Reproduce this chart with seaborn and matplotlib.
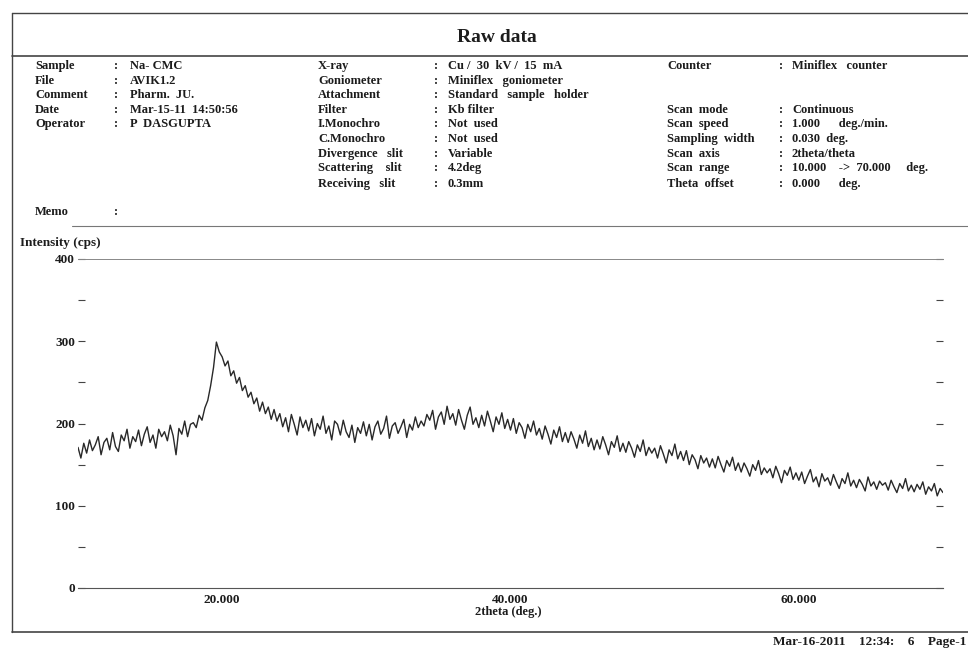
import numpy as np
import pandas as pd
import matplotlib
matplotlib.use("Agg")
import matplotlib.pyplot as plt
from matplotlib.lines import Line2D
import seaborn as sns

# ---------------- data ----------------
scan_start = 10.0
scan_step = 0.2
intensity = [
    171, 158, 176, 164, 180, 167, 174, 184, 162, 177,
    182, 168, 189, 172, 166, 186, 179, 193, 170, 184,
    178, 192, 173, 187, 196, 177, 186, 170, 193, 184,
    190, 179, 198, 185, 162, 194, 187, 203, 184, 199,
    201, 195, 210, 204, 219, 228, 246, 268, 299, 287,
    281, 270, 276, 258, 264, 249, 256, 240, 246, 232,
    238, 224, 231, 215, 226, 212, 220, 205, 217, 203,
    212, 196, 207, 190, 211, 199, 186, 208, 195, 204,
    191, 206, 185, 200, 193, 209, 188, 197, 180, 203,
    199, 186, 204, 190, 183, 198, 177, 195, 188, 202,
    185, 199, 180, 196, 203, 187, 194, 209, 182, 197,
    201, 188, 196, 205, 183, 199, 192, 208, 195, 203,
    197, 211, 204, 216, 193, 208, 214, 199, 221, 205,
    212, 198, 217, 204, 193, 210, 220, 199, 207, 195,
    210, 197, 215, 203, 190, 208, 199, 213, 194, 205,
    192, 206, 188, 201, 195, 182, 199, 190, 203, 186,
    194, 181, 197, 187, 175, 192, 183, 196, 178, 189,
    177, 190, 181, 170, 186, 176, 191, 172, 182, 168,
    180, 169, 184, 174, 162, 178, 171, 185, 166, 176,
    165, 178, 170, 159, 174, 166, 180, 161, 171, 164,
    170, 158, 173, 163, 152, 168, 161, 175, 157, 166,
    155, 167, 150, 162, 156, 145, 161, 152, 158, 147,
    157, 146, 160, 150, 141, 155, 148, 159, 143, 152,
    141, 152, 145, 136, 150, 143, 155, 138, 146, 140,
    145, 134, 148, 139, 128, 143, 137, 147, 132, 140,
    131, 141, 127, 136, 144, 129, 135, 123, 139, 130,
    134, 125, 138, 129, 121, 133, 127, 140, 124, 131,
    122, 132, 126, 118, 135, 124, 129, 120, 130, 125,
    128, 119, 131, 123, 116, 127, 121, 133, 118, 125,
    117, 126, 120, 129, 114, 123, 118, 127, 112, 121,
    116,
]
x_ticks = [20, 40, 60]
x_tick_labels = ["20.000", "40.000", "60.000"]
y_ticks = [0, 100, 200, 300, 400]
y_tick_labels = ["0", "100", "200", "300", "400"]
y_minor = [50, 150, 250, 350]

col1_labels = ["Sample", "File", "Comment", "Date", "Operator"]
col1_values = ["Na- CMC", "AVIK1.2", "Pharm.  JU.", "Mar-15-11  14:50:56", "P  DASGUPTA"]
col2_labels = ["X-ray", "Goniometer", "Attachment", "Filter", "I.Monochro",
               "C.Monochro", "Divergence   slit", "Scattering    slit", "Receiving   slit"]
col2_values = ["Cu /  30  kV /  15  mA", "Miniflex   goniometer", "Standard   sample   holder",
               "Kb filter", "Not  used", "Not  used", "Variable", "4.2deg", "0.3mm"]
col3_labels = ["Counter", "", "", "Scan  mode", "Scan  speed", "Sampling  width",
               "Scan  axis", "Scan  range", "Theta  offset"]
col3_values = ["Miniflex   counter", "", "", "Continuous", "1.000      deg./min.",
               "0.030  deg.", "2theta/theta", "10.000    ->  70.000     deg.", "0.000      deg."]

two_theta = scan_start + scan_step * np.arange(len(intensity))
df = pd.DataFrame({"2theta": two_theta, "Intensity": intensity})

# ---------------- style ----------------
sns.set_theme(style="white")
plt.rcParams["font.family"] = ["Liberation Serif", "DejaVu Serif"]
plt.rcParams["font.weight"] = "bold"
INK = "#1c1c1c"

W, H = 968, 649
fig = plt.figure(figsize=(W / 100, H / 100), dpi=100)

def fx(px):
    return px / W

def fy(py):
    return 1 - py / H

# plot axes
ax_l, ax_r, ax_t, ax_b = 78, 943, 259, 588
ax = fig.add_axes([fx(ax_l), fy(ax_b), fx(ax_r - ax_l), (ax_b - ax_t) / H])
sns.lineplot(data=df, x="2theta", y="Intensity", ax=ax, color="#111111",
             linewidth=1.0, alpha=0.9)
ax.set_xlim(10, 70)
ax.set_ylim(0, 400)
for s in ["left", "right"]:
    ax.spines[s].set_visible(False)
ax.spines["bottom"].set_color("#555555")
ax.spines["bottom"].set_linewidth(0.8)
ax.spines["top"].set_color("#888888")
ax.spines["top"].set_linewidth(0.7)
ax.set_xlabel("")
ax.set_ylabel("")
ax.set_xticks(x_ticks)
ax.set_xticklabels(x_tick_labels, fontsize=9.5, fontweight="bold", color=INK)
ax.tick_params(axis="x", length=0, pad=4)
ax.set_yticks(y_ticks)
ax.set_yticklabels(y_tick_labels, fontsize=9.5, fontweight="bold", color=INK)
ax.set_yticks(y_minor, minor=True)
ax.tick_params(axis="y", which="both", direction="in", length=5, width=0.8,
               color="#444444", left=True, right=True, pad=2)
ax.grid(False)

# axis titles as page text
fig.text(fx(20), fy(243), "Intensity (cps)", fontsize=9.5, fontweight="bold",
         color=INK, ha="left", va="center")
fig.text(fx(508), fy(612), "2theta (deg.)", fontsize=9, fontweight="bold",
         color=INK, ha="center", va="center")

# title
fig.text(fx(497), fy(37), "Raw data", fontsize=14, fontweight="bold",
         color=INK, ha="center", va="center")

# header columns
rows1 = [66, 81, 95, 110, 124]
for lab, val, y in zip(col1_labels, col1_values, rows1):
    fig.text(fx(35), fy(y), lab, fontsize=9, fontweight="bold", color=INK, va="center")
    fig.text(fx(114), fy(y), ":", fontsize=9, fontweight="bold", color=INK, va="center")
    fig.text(fx(130), fy(y), val, fontsize=9, fontweight="bold", color=INK, va="center")

rows2 = [66, 81, 95, 110, 124, 139, 154, 168, 184]
for lab, val, y in zip(col2_labels, col2_values, rows2):
    fig.text(fx(318), fy(y), lab, fontsize=9, fontweight="bold", color=INK, va="center")
    fig.text(fx(434), fy(y), ":", fontsize=9, fontweight="bold", color=INK, va="center")
    fig.text(fx(448), fy(y), val, fontsize=9, fontweight="bold", color=INK, va="center")

for lab, val, y in zip(col3_labels, col3_values, rows2):
    if not lab:
        continue
    fig.text(fx(667), fy(y), lab, fontsize=9, fontweight="bold", color=INK, va="center")
    fig.text(fx(779), fy(y), ":", fontsize=9, fontweight="bold", color=INK, va="center")
    fig.text(fx(792), fy(y), val, fontsize=9, fontweight="bold", color=INK, va="center")

fig.text(fx(35), fy(212), "Memo", fontsize=9, fontweight="bold", color=INK, va="center")
fig.text(fx(114), fy(212), ":", fontsize=9, fontweight="bold", color=INK, va="center")

# footer
fig.text(fx(773), fy(642), "Mar-16-2011    12:34:    6    Page-1", fontsize=9.5,
         fontweight="bold", color=INK, ha="left", va="center")

# page frame lines
def hline(y, x0, x1, lw=1.0, color="#444444"):
    fig.add_artist(Line2D([fx(x0), fx(x1)], [fy(y), fy(y)], lw=lw, color=color))

def vline(x, y0, y1, lw=1.0, color="#444444"):
    fig.add_artist(Line2D([fx(x), fx(x)], [fy(y0), fy(y1)], lw=lw, color=color))

hline(13, 12, 968, lw=1.0)
hline(56, 12, 968, lw=1.2)
hline(226, 72, 968, lw=0.8, color="#777777")
hline(632, 12, 968, lw=1.2)
vline(12, 13, 632, lw=1.0)

fig.savefig("out.png", dpi=100, facecolor="white")
